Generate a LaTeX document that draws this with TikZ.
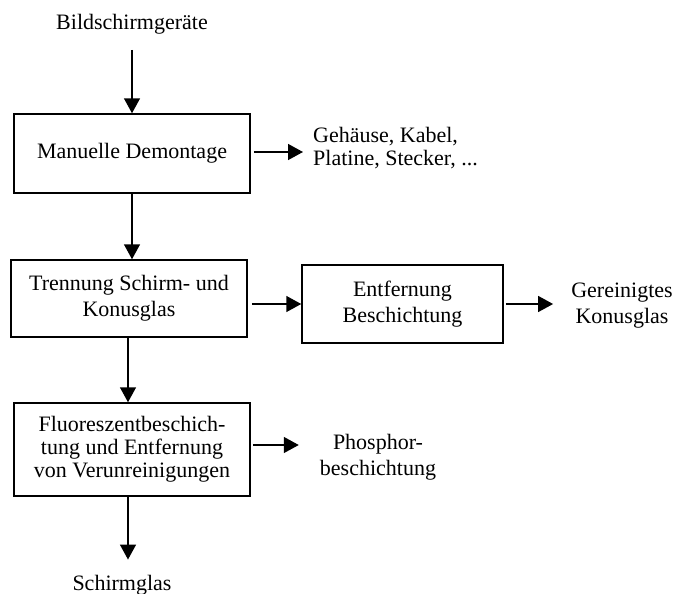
\documentclass[tikz,border=0pt]{standalone}
\usepackage{fontspec}
\setmainfont{Liberation Serif}
\usetikzlibrary{arrows.meta}
\begin{document}
\begin{tikzpicture}[x=1pt,y=-1pt,
  box/.style={draw,line width=1.5pt,rectangle,inner sep=0pt,align=center},
  lbl/.style={inner sep=0pt,align=center},
  arr/.style={line width=1.5pt,-{Triangle[length=15pt,width=16pt]}},
  tx/.style={font=\fontsize{22}{26}\selectfont},
  txs/.style={font=\fontsize{22}{23}\selectfont}]
\useasboundingbox (0,0) rectangle (677,594);
% nodes
\node[lbl,tx,anchor=base] (src) at (132,30) {Bildschirmgeräte};
\node[box,tx,minimum width=236pt,minimum height=79pt] (b1) at (132,153.5) {Manuelle Demontage};
\node[lbl,txs,align=left,anchor=west] (geh) at (313,148.5) {Gehäuse, Kabel,\\Platine, Stecker, ...};
\node[box,tx,minimum width=236pt,minimum height=77pt] (b2) at (129,298.5) {Trennung Schirm- und\\Konusglas};
\node[box,tx,minimum width=201pt,minimum height=78pt] (b3) at (402.5,304) {Entfernung\\Beschichtung};
\node[lbl,tx] (ger) at (622,306) {Gereinigtes\\Konusglas};
\node[box,txs,minimum width=236pt,minimum height=93pt] (b4) at (132,449.5) {Fluoreszentbeschich-\\tung und Entfernung\\von Verunreinigungen};
\node[lbl,tx] (pho) at (378,457) {Phosphor-\\beschichtung};
\node[lbl,tx,anchor=base] (sch) at (122,590) {Schirmglas};
% connectors
\draw[arr,shorten <=15pt] (src.south) -- (src.south |- b1.north);
\draw[arr,shorten <=3pt,shorten >=10pt] ([yshift=1.5pt]b1.east) -- ([yshift=1.5pt]b1.east -| geh.west);
\draw[arr] (b1.south) -- (b1.south |- b2.north);
\draw[arr,shorten <=4pt] (b2.east |- b3.west) -- (b3.west);
\draw[arr,shorten <=2pt,shorten >=18pt] (b3.east) -- (b3.east -| ger.west);
\draw[arr] ([xshift=-1pt]b2.south) -- ([xshift=-1pt]b2.south |- b4.north);
\draw[arr,shorten <=2pt,shorten >=21pt] ([yshift=4.5pt]b4.east) -- ([yshift=4.5pt]b4.east -| pho.west);
\draw[arr,shorten >=15pt] ([xshift=-4pt]b4.south) -- ([xshift=-4pt]b4.south |- sch.north);
\end{tikzpicture}
\end{document}
